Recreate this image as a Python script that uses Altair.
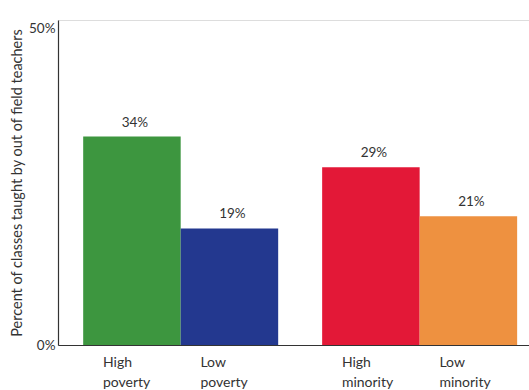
import altair as alt
import pandas as pd

# Share of classes taught by out-of-field teachers, by school type
groups = ["poverty", "poverty", "minority", "minority"]
levels = ["High", "Low", "High", "Low"]
names = ["High poverty", "Low poverty", "High minority", "Low minority"]
values = [34, 19, 29, 21]
colors = ["#3d963f", "#23388f", "#e31837", "#ee9140"]

df = pd.DataFrame({"group": groups, "level": levels, "name": names, "value": values})
df["label"] = df["value"].astype(str) + "%"
df["cat"] = df["level"] + "\n" + df["group"]

FONT = "Lato"
W, H = 471, 325

x_enc = alt.X(
    "group:N",
    sort=["poverty", "minority"],
    scale=alt.Scale(paddingInner=0.184, paddingOuter=0.0775, align=0.68),
    axis=alt.Axis(labels=False, ticks=False, title=None, domainColor="#333333", domainWidth=1.2),
)
xo_enc = alt.XOffset("level:N", sort=["High", "Low"], scale=alt.Scale(paddingInner=0, paddingOuter=0))

y_enc = alt.Y(
    "value:Q",
    scale=alt.Scale(domain=[0, 53], nice=False),
    axis=alt.Axis(
        values=[0, 50],
        labelExpr="datum.value + '%'",
        ticks=False,
        grid=False,
        domainColor="#333333",
        domainWidth=1.2,
        labelPadding=3,
        labelFontSize=13.5,
        labelColor="#333333",
        labelFont=FONT,
        labelOffset={"condition": {"test": "datum.value == 50", "value": -10}, "value": 0},
        title="Percent of classes taught by out of field teachers",
        titleFont=FONT,
        titleFontSize=14.5,
        titleFontWeight="normal",
        titleColor="#333333",
        titlePadding=4,
    ),
)

base = alt.Chart(df)

bars = base.mark_bar().encode(
    x=x_enc,
    xOffset=xo_enc,
    y=y_enc,
    color=alt.Color("name:N", sort=names, scale=alt.Scale(domain=names, range=colors), legend=None),
)

value_text = base.mark_text(
    baseline="bottom", dy=-7, dx=3, font=FONT, fontSize=13.5, color="#333333"
).encode(
    x=alt.X("group:N", sort=["poverty", "minority"]),
    xOffset=alt.XOffset("level:N", sort=["High", "Low"]),
    y="value:Q",
    text="label:N",
)

cat_text = base.mark_text(
    align="left", baseline="top", dx=-29, lineBreak="\n", lineHeight=20,
    font=FONT, fontSize=14, color="#333333",
).encode(
    x=alt.X("group:N", sort=["poverty", "minority"]),
    xOffset=alt.XOffset("level:N", sort=["High", "Low"]),
    y=alt.value(H + 11),
    text="cat:N",
)

chart = (
    alt.layer(bars, value_text, cat_text)
    .properties(
        width=W,
        height=H,
        padding={"left": 58, "top": 20, "right": 0, "bottom": 45},
        autosize=alt.AutoSizeParams(type="none"),
    )
    .configure_view(stroke=None)
    .configure(background="white")
)

chart.save("out.html", embed_options={"renderer": "svg", "actions": False})
